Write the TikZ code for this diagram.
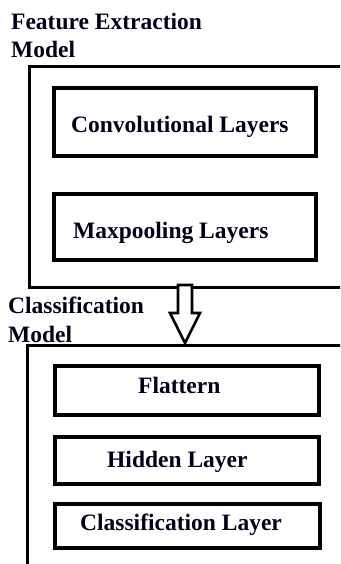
\documentclass[tikz,border=0pt]{standalone}
\usepackage{fontspec}
\setmainfont{Liberation Serif}
\usetikzlibrary{calc}
\begin{document}
\begin{tikzpicture}[x=1pt,y=1pt,
  outerbox/.style={draw=black,line width=3pt},
  layerbox/.style={draw=black,line width=3.2pt,inner sep=0pt},
  lbl/.style={font=\fontsize{23.5}{27}\selectfont\bfseries,inner sep=0pt,anchor=base west,text=black!90!blue},
  blockarrow/.style={draw=black,line width=2.6pt,fill=white,line join=miter}]
\useasboundingbox (0,0) rectangle (340,-564);
\clip (0,0) rectangle (340,-564);
% outer model boxes (extend beyond the picture edge)
\draw[outerbox] (360,-67) -- (29,-67) -- (29,-287) -- (360,-287);
\draw[outerbox] (360,-345) -- (27,-345) -- (27,-580);
% titles
\node[lbl] (t1) at (11,-30) {Feature Extraction};
\node[lbl] (t1b) at (11,-58) {Model};
\node[lbl] (t2) at (8,-313) {Classification};
\node[lbl] (t2b) at (8,-342) {Model};
% feature extraction layers
\node[layerbox,minimum width=262,minimum height=68] (conv) at (185,-122) {};
\node[lbl] (convt) at (71,-133) {Convolutional Layers};
\node[layerbox,minimum width=262,minimum height=66] (maxp) at (185,-227) {};
\node[lbl] (maxpt) at (73,-238) {Maxpooling Layers};
% classification layers
\node[layerbox,minimum width=264,minimum height=49] (flat) at (187,-390.5) {};
\node[lbl] (flatt) at (138,-393) {Flattern};
\node[layerbox,minimum width=264,minimum height=47] (hid) at (187,-460.5) {};
\node[lbl] (hidt) at (107,-467) {Hidden Layer};
\node[layerbox,minimum width=265,minimum height=44] (cls) at (187.5,-526) {};
\node[lbl] (clst) at (80,-530) {Classification Layer};
% hollow block arrow between the two models
\coordinate (atop) at (185,-285);
\coordinate (atip) at (185,-343);
\draw[blockarrow] ($(atop)+(-7,0)$) -- ($(atop)+(7,0)$) -- (192,-313) -- (200,-313) -- (atip) -- (170,-313) -- (178,-313) -- cycle;
\end{tikzpicture}
\end{document}
